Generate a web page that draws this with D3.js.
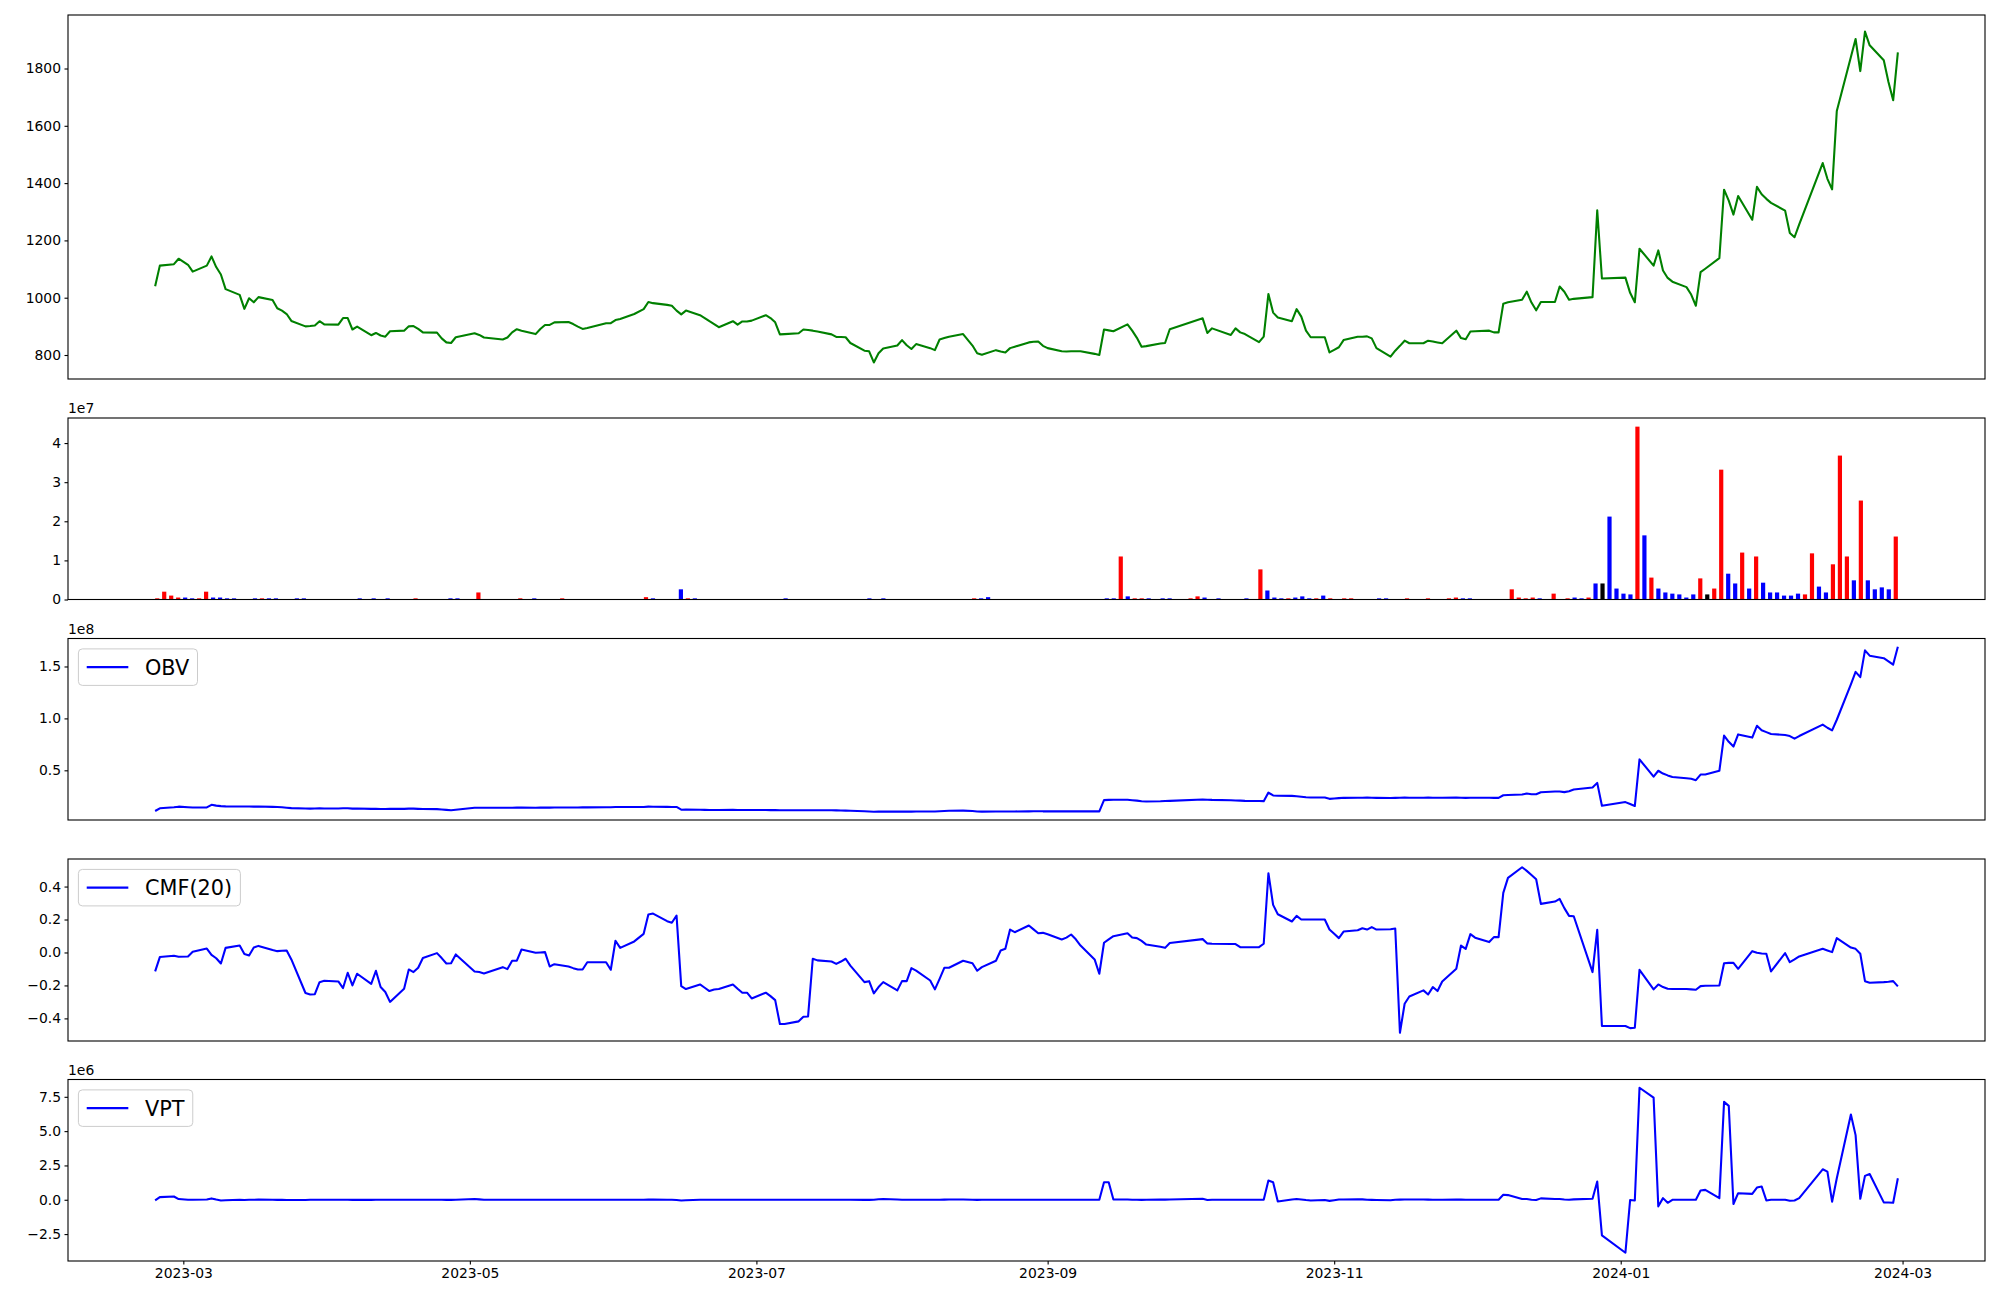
<!DOCTYPE html>
<html><head><meta charset="utf-8">
<script src="https://cdn.jsdelivr.net/npm/d3@7"></script>
<style>
html,body{margin:0;padding:0;background:#fff;}
svg{display:block;}
text{font-family:"DejaVu Sans",sans-serif;}
</style></head><body>
<svg id="chart" width="2000" height="1300"></svg>
<script>
// ---------------- DATA ----------------
const startDate = "2023-02-23", endDate = "2024-02-29";
const holidays = ["2023-03-01","2023-05-01","2023-05-05","2023-05-29","2023-06-06","2023-08-15",
  "2023-09-28","2023-09-29","2023-10-02","2023-10-03","2023-10-09","2023-12-25","2023-12-29",
  "2024-01-01","2024-02-09","2024-02-12"];

const price = [1040,1112,1117,1136,1115,1091,1112,1144,1107,1081,
 1030,1010,961,998,984,1002,992,963,955,943,
 919,900,901,903,918,907,906,929,929,889,
 899,869,877,868,864,883,885,900,901,891,
 879,878,858,844,842,862,876,870,861,854,
 861,879,890,885,873,891,905,905,914,915,
 908,899,891,894,911,911,922,926,943,960,
 985,981,975,972,955,942,955,939,929,918,
 908,897,918,906,917,917,920,939,929,914,
 872,873,876,889,887,885,882,872,863,863,
 862,842,815,813,774,806,823,833,852,834,
 821,838,824,817,854,859,864,873,833,806,
 801,817,812,809,824,829,844,846,847,832,
 824,813,812,813,813,813,804,800,889,886,
 883,907,885,860,829,831,840,842,890,928,
 877,893,870,893,879,873,845,864,1013,948,
 931,918,960,934,885,862,862,809,818,827,
 852,864,864,865,858,824,794,815,832,850,
 841,841,850,847,844,841,885,859,855,882,
 883,885,879,879,979,984,993,1021,983,956,
 985,985,1039,1021,993,996,1002,1305,1067,1070,
 1017,984,1171,1112,1165,1095,1069,1056,1037,1011,
 972,1089,1101,1138,1377,1339,1290,1355,1272,1387,
 1361,1345,1331,1304,1226,1211,1256,1470,1415,1378,
 1652,1840,1903,1791,1929,1881,1829,1753,1689,1856];

// volume in millions of shares
const volumeM = [0.3,2.0,1.0,0.5,0.5,0.3,0.3,2.0,0.5,0.5,
 0.3,0.3,0.05,0.05,0.3,0.3,0.3,0.3,0.05,0.05,
 0.3,0.3,0.05,0.05,0.05,0.05,0.05,0.05,0.05,0.3,
 0.05,0.3,0.05,0.3,0.05,0.05,0.05,0.3,0.05,0.05,
 0.05,0.05,0.3,0.3,0.05,0.05,1.8,0.05,0.05,0.05,
 0.05,0.05,0.3,0.05,0.3,0.05,0.05,0.05,0.3,0.05,
 0.05,0.05,0.05,0.05,0.05,0.05,0.05,0.05,0.05,0.05,
 0.6,0.3,0.05,0.05,0.05,2.6,0.3,0.3,0.05,0.05,
 0.05,0.05,0.05,0.05,0.05,0.05,0.05,0.05,0.05,0.05,
 0.3,0.05,0.05,0.05,0.05,0.05,0.05,0.05,0.05,0.05,
 0.05,0.05,0.3,0.05,0.3,0.05,0.05,0.05,0.05,0.05,
 0.05,0.05,0.05,0.05,0.05,0.05,0.05,0.3,0.3,0.6,
 0.05,0.05,0.05,0.05,0.05,0.05,0.05,0.05,0.05,0.05,
 0.05,0.05,0.05,0.05,0.05,0.05,0.3,0.3,11.0,0.8,
 0.3,0.3,0.3,0.05,0.3,0.3,0.05,0.05,0.3,0.8,
 0.5,0.05,0.3,0.05,0.05,0.05,0.3,0.05,7.7,2.3,
 0.5,0.3,0.3,0.5,0.8,0.3,0.3,1.0,0.3,0.05,
 0.3,0.3,0.05,0.05,0.05,0.3,0.3,0.05,0.05,0.3,
 0.05,0.05,0.3,0.05,0.05,0.3,0.5,0.3,0.3,0.05,
 0.05,0.05,0.05,0.05,2.6,0.5,0.3,0.5,0.3,0.05,
 1.5,0.05,0.3,0.5,0.3,0.5,4.1,4.1,21.2,2.8,
 1.5,1.3,44.2,16.4,5.6,2.8,1.8,1.5,1.3,0.5,
 1.3,5.4,1.3,2.8,33.2,6.6,4.1,12.0,2.8,11.0,
 4.3,1.8,1.8,1.0,1.0,1.5,1.3,11.8,3.3,1.8,
 9.0,36.8,11.0,4.9,25.3,4.9,2.6,3.1,2.6,16.1];

// bar direction: r = up (red), b = down (blue), k = unchanged (black)
const volDir = ["rrrrbbrrbb","bbbbbrbbbb","bbbbbbbbbb","bbbbbbbrbb","bbbbbbrbbb",
 "bbrbbbbbrb","bbbbbbbbbb","rbbbbbrbbb","bbbbbbbbbb","bbbbbbbbbb",
 "bbbbbbbbbb","bbbbbbbrbb","bbbbbbbbbb","bbbbbbbbrb","rrbbbbbbrr",
 "bbbbbbbbrb","bbrbbbrbrb","rrbbbbbbbr","bbrbbrrbbb","bbbbrrrrbb",
 "rbrbbrbkbb","bbrbrbbbbb","brkrrbbrbr","bbbbbbrrbb","rrrbrbbbbr"].join("");

// OBV in units of 1e7
const obvE7 = [1.08,1.34,1.45,1.50,1.45,1.42,1.43,1.68,1.60,1.55,
 1.53,1.52,1.51,1.52,1.50,1.51,1.48,1.46,1.44,1.40,
 1.36,1.32,1.31,1.32,1.34,1.33,1.33,1.34,1.34,1.31,
 1.32,1.29,1.30,1.28,1.27,1.29,1.29,1.31,1.31,1.29,
 1.27,1.26,1.23,1.19,1.15,1.20,1.40,1.40,1.39,1.39,
 1.40,1.40,1.41,1.41,1.40,1.41,1.41,1.41,1.42,1.42,
 1.42,1.42,1.43,1.43,1.45,1.45,1.46,1.46,1.47,1.47,
 1.50,1.49,1.48,1.47,1.47,1.21,1.22,1.20,1.19,1.18,
 1.18,1.18,1.19,1.18,1.18,1.18,1.18,1.18,1.17,1.17,
 1.16,1.16,1.16,1.16,1.15,1.15,1.15,1.15,1.14,1.13,
 1.12,1.10,1.06,1.03,1.01,1.02,1.02,1.02,1.03,1.02,
 1.02,1.03,1.03,1.04,1.06,1.08,1.10,1.12,1.08,1.04,
 1.02,1.03,1.03,1.03,1.04,1.04,1.05,1.06,1.06,1.05,
 1.05,1.05,1.05,1.05,1.05,1.05,1.05,1.05,2.13,2.15,
 2.16,2.16,2.12,2.08,2.02,2.00,2.02,2.04,2.06,2.19,
 2.17,2.15,2.12,2.10,2.08,2.06,2.04,2.03,2.86,2.58,
 2.55,2.54,2.50,2.45,2.40,2.38,2.38,2.25,2.28,2.32,
 2.35,2.36,2.36,2.37,2.36,2.35,2.34,2.35,2.36,2.37,
 2.36,2.36,2.37,2.36,2.36,2.36,2.37,2.36,2.35,2.36,
 2.36,2.36,2.35,2.35,2.60,2.62,2.67,2.76,2.70,2.70,
 2.89,2.96,2.96,2.90,2.99,3.15,3.34,3.79,1.59,1.94,
 1.75,1.56,6.05,4.39,4.96,4.69,4.51,4.36,4.23,4.18,
 4.05,4.59,4.59,4.95,8.34,7.75,7.29,8.46,8.15,9.29,
 8.85,8.68,8.50,8.40,8.30,8.05,8.30,9.40,9.10,8.85,
 9.87,13.27,14.48,13.97,16.55,16.04,15.80,15.50,15.18,16.90];

// Chaikin Money Flow (20)
const cmf = [-0.115,-0.028,-0.020,-0.026,-0.024,0.004,0.024,-0.015,-0.035,-0.067,
 0.028,0.042,-0.010,-0.018,0.030,0.040,0.015,0.008,0.010,0.012,
 -0.042,-0.246,-0.255,-0.253,-0.180,-0.172,-0.176,-0.216,-0.123,-0.200,
 -0.129,-0.190,-0.111,-0.210,-0.240,-0.300,-0.220,-0.103,-0.119,-0.093,
 -0.034,-0.004,-0.034,-0.067,-0.065,-0.012,-0.115,-0.119,-0.127,-0.089,
 -0.101,-0.050,-0.050,0.018,-0.002,0.000,0.002,-0.085,-0.071,-0.085,
 -0.095,-0.103,-0.103,-0.059,-0.059,-0.105,0.071,0.028,0.067,0.113,
 0.230,0.236,0.190,0.180,0.224,-0.204,-0.222,-0.194,-0.214,-0.234,
 -0.225,-0.222,-0.194,-0.220,-0.244,-0.244,-0.279,-0.244,-0.265,-0.289,
 -0.434,-0.434,-0.418,-0.390,-0.388,-0.038,-0.048,-0.055,-0.069,-0.055,
 -0.038,-0.080,-0.180,-0.174,-0.248,-0.210,-0.180,-0.230,-0.174,-0.174,
 -0.095,-0.110,-0.170,-0.224,-0.160,-0.093,-0.093,-0.050,-0.065,-0.111,
 -0.089,-0.050,0.012,0.022,0.139,0.123,0.164,0.140,0.117,0.119,
 0.110,0.079,0.090,0.109,0.080,0.042,-0.042,-0.129,0.059,0.080,
 0.099,0.117,0.091,0.087,0.070,0.048,0.035,0.028,0.057,0.081,
 0.055,0.053,0.051,0.051,0.032,0.032,0.032,0.053,0.481,0.289,
 0.232,0.188,0.222,0.200,0.200,0.200,0.200,0.139,0.113,0.087,
 0.127,0.135,0.147,0.139,0.154,0.139,0.141,0.145,-0.487,-0.311,
 -0.267,-0.230,-0.255,-0.210,-0.234,-0.176,-0.099,0.042,0.022,0.111,
 0.090,0.063,0.093,0.093,0.362,0.453,0.517,0.495,0.470,0.444,
 0.295,0.309,0.325,0.269,0.222,0.220,-0.119,0.137,-0.446,-0.446,
 -0.459,-0.457,-0.105,-0.224,-0.194,-0.210,-0.220,-0.222,-0.222,-0.224,
 -0.226,-0.204,-0.202,-0.200,-0.065,-0.063,-0.063,-0.099,0.008,-0.002,
 -0.006,-0.008,-0.115,-0.004,-0.059,-0.042,-0.024,0.022,0.012,0.002,
 0.087,0.030,0.022,-0.008,-0.174,-0.184,-0.180,-0.178,-0.174,-0.206];

// Volume Price Trend in units of 1e6
const vptE6 = [-0.05,0.19,0.24,0.05,0.00,0.00,0.02,0.10,0.02,-0.05,
 -0.03,0.00,-0.02,0.00,0.00,0.01,0.00,-0.01,-0.01,-0.02,
 -0.02,-0.02,0.00,0.00,0.00,0.00,0.00,0.00,0.00,-0.01,
 0.00,-0.01,0.00,0.00,0.00,0.00,0.00,0.00,0.00,0.00,
 0.00,0.00,0.00,-0.01,-0.01,0.00,0.05,0.03,0.00,0.00,
 0.00,0.00,0.00,0.00,0.00,0.00,0.00,0.00,0.00,0.00,
 0.00,0.00,0.00,0.00,0.00,0.00,0.00,0.00,0.00,0.00,
 0.02,0.01,0.00,0.00,-0.02,-0.05,-0.04,0.00,0.00,0.00,
 0.00,0.00,0.00,0.00,0.00,0.00,0.00,0.00,0.00,0.00,
 0.00,0.00,0.00,0.00,0.00,0.00,0.00,0.00,0.00,0.00,
 0.00,0.00,-0.01,-0.01,0.00,0.04,0.05,0.02,0.00,0.00,
 0.00,0.00,0.00,0.00,0.00,0.01,0.02,0.02,0.00,-0.01,
 0.00,0.00,0.00,0.00,0.00,0.00,0.00,0.00,0.00,0.00,
 0.00,0.00,0.00,0.00,0.00,0.00,0.00,0.00,1.28,1.28,
 0.02,0.02,0.00,0.00,-0.01,0.00,0.01,0.01,0.02,0.07,
 -0.02,0.00,0.00,0.00,0.00,0.00,0.00,0.00,1.40,1.28,
 -0.12,0.02,0.05,0.02,-0.02,-0.05,-0.02,-0.08,-0.03,0.02,
 0.02,0.03,0.03,0.00,-0.01,-0.02,-0.03,0.00,0.01,0.02,
 0.02,0.02,0.01,0.00,0.00,0.00,0.02,0.01,0.00,0.00,
 0.00,0.00,0.00,0.00,0.36,0.34,0.05,0.05,0.00,-0.02,
 0.10,0.05,0.05,0.02,0.00,0.03,0.07,1.33,-2.60,-3.86,
 -0.02,-0.05,8.16,7.44,-0.48,0.12,-0.22,0.00,0.00,0.00,
 0.00,0.68,0.72,0.12,7.13,6.84,-0.31,0.48,0.43,0.89,
 0.97,-0.05,0.00,0.00,-0.07,-0.05,0.12,2.22,2.05,-0.14,
 1.57,6.21,4.71,0.07,1.74,1.88,-0.19,-0.20,-0.22,1.57];

// tick values / labels
const priceTicks = [800,1000,1200,1400,1600,1800];
const volTicks = [0,1,2,3,4];          // x 1e7
const obvTicks = [0.5,1.0,1.5];        // x 1e8
const cmfTicks = [-0.4,-0.2,0.0,0.2,0.4];
const vptTicks = [-2.5,0.0,2.5,5.0,7.5]; // x 1e6
const xTickLabels = ["2023-03","2023-05","2023-07","2023-09","2023-11","2024-01","2024-03"];
const legendLabels = ["OBV","CMF(20)","VPT"];
const offsetLabels = ["1e7","1e8","1e6"];

// ---------------- BUILD ----------------
const parse = d3.utcParse("%Y-%m-%d");
const fmt = d3.utcFormat("%Y-%m-%d");
const hol = new Set(holidays);
const dates = [];
for (let d = parse(startDate); d <= parse(endDate); d = d3.utcDay.offset(d, 1)) {
  const wd = d.getUTCDay();
  if (wd !== 0 && wd !== 6 && !hol.has(fmt(d))) dates.push(d);
}
const N = dates.length;
const volume = volumeM.map(v => v * 1e6);
const obv = obvE7.map(v => v * 1e7);
const vpt = vptE6.map(v => v * 1e6);

const svg = d3.select("#chart");
svg.append("rect").attr("width", 2000).attr("height", 1300).attr("fill", "#fff");

const L = 68, R = 1985;
const panels = [{t:15,b:379},{t:418,b:599.5},{t:638.5,b:820},{t:859,b:1041},{t:1079.5,b:1261}];
const FS = 13.9, LW = 2.08, SPW = 1.1, TL = 3.5;

const t0 = +dates[0], t1 = +dates[N-1], span = t1 - t0;
const x = d3.scaleUtc().domain([new Date(t0 - 0.05*span), new Date(t1 + 0.05*span)]).range([L, R]);

function pad(arr){ const [a,b] = d3.extent(arr); const m = (b-a)*0.05; return [a-m, b+m]; }

function yAxis(p, y, ticks, labelFn) {
  const g = svg.append("g").attr("transform", `translate(${L},0)`);
  const ax = d3.axisLeft(y).tickValues(ticks).tickSize(TL).tickPadding(3.5).tickFormat(labelFn);
  g.call(ax);
  g.select(".domain").remove();
  g.selectAll(".tick line").attr("stroke", "#000").attr("stroke-width", SPW);
  g.selectAll(".tick text").attr("fill", "#000").style("font-size", FS + "px")
    .style("font-family", "'DejaVu Sans', sans-serif");
}
function frame(p) {
  svg.append("rect").attr("x", L).attr("y", p.t).attr("width", R - L).attr("height", p.b - p.t)
    .attr("fill", "none").attr("stroke", "#000").attr("stroke-width", SPW);
}
function offsetText(p, s) {
  svg.append("text").attr("x", L).attr("y", p.t - 5).attr("font-size", FS).attr("fill", "#000").text(s);
}
function legend(p, label) {
  const fs = 20.8, bp = 0.4*fs, hl = 2*fs, htp = 0.8*fs, bap = 0.5*fs;
  const g = svg.append("g");
  const bx = L + bap, by = p.t + bap, bh = 36.5;
  const rect = g.append("rect").attr("x", bx).attr("y", by).attr("height", bh)
    .attr("rx", 4).attr("ry", 4).attr("fill", "#fff").attr("fill-opacity", 0.8)
    .attr("stroke", "#cccccc").attr("stroke-width", 1);
  const cy = by + bh/2;
  g.append("line").attr("x1", bx + bp).attr("x2", bx + bp + hl).attr("y1", cy).attr("y2", cy)
    .attr("stroke", "#0000ff").attr("stroke-width", LW);
  const t = g.append("text").attr("x", bx + bp + hl + htp).attr("y", cy).attr("dy", "0.36em")
    .attr("font-size", fs).attr("fill", "#000").text(label);
  const tw = t.node().getComputedTextLength();
  rect.attr("width", bp + hl + htp + tw + bp);
}

// ---- Panel 1: price ----
{
  const p = panels[0];
  const y = d3.scaleLinear().domain(pad(price)).range([p.b, p.t]);
  const line = d3.line().x((d,i) => x(dates[i])).y(d => y(d));
  svg.append("path").datum(price).attr("d", line).attr("fill", "none")
    .attr("stroke", "#008000").attr("stroke-width", LW).attr("stroke-linejoin", "round");
  yAxis(p, y, priceTicks, d => String(d));
  frame(p);
}

// ---- Panel 2: volume bars (index axis) ----
{
  const p = panels[1];
  const bw = 0.6;
  const lo = -bw/2, hi = N - 1 + bw/2, m = 0.05*(hi - lo);
  const xi = d3.scaleLinear().domain([lo - m, hi + m]).range([L, R]);
  const y = d3.scaleLinear().domain([0, d3.max(volume)*1.05]).range([p.b, p.t]);
  const col = {r:"#ff0000", b:"#0000ff", k:"#000000"};
  svg.append("g").selectAll("rect").data(volume).join("rect")
    .attr("x", (d,i) => xi(i - bw/2)).attr("width", xi(bw) - xi(0))
    .attr("y", d => y(d)).attr("height", d => y(0) - y(d))
    .attr("fill", (d,i) => col[volDir[i]]);
  yAxis(p, y, volTicks.map(v => v*1e7), d => String(Math.round(d/1e7)));
  offsetText(p, offsetLabels[0]);
  frame(p);
}

// ---- Line indicator panels ----
function indicatorPanel(p, vals, ticks, scale, labelFmt, leg, off) {
  const y = d3.scaleLinear().domain(pad(vals)).range([p.b, p.t]);
  const line = d3.line().x((d,i) => x(dates[i])).y(d => y(d));
  svg.append("path").datum(vals).attr("d", line).attr("fill", "none")
    .attr("stroke", "#0000ff").attr("stroke-width", LW).attr("stroke-linejoin", "round");
  yAxis(p, y, ticks.map(v => v*scale), labelFmt);
  if (off) offsetText(p, off);
  frame(p);
  legend(p, leg);
}
const minus = s => s.replace("-", "\u2212");
indicatorPanel(panels[2], obv, obvTicks, 1e8, d => (d/1e8).toFixed(1), legendLabels[0], offsetLabels[1]);
indicatorPanel(panels[3], cmf, cmfTicks, 1, d => minus(d.toFixed(1)), legendLabels[1], null);
indicatorPanel(panels[4], vpt, vptTicks, 1e6, d => minus((d/1e6).toFixed(1)), legendLabels[2], offsetLabels[2]);

// ---- bottom x axis ----
{
  const p = panels[4];
  const g = svg.append("g").attr("transform", `translate(0,${p.b})`);
  const tv = xTickLabels.map(s => parse(s + "-01"));
  g.call(d3.axisBottom(x).tickValues(tv).tickSize(TL).tickPadding(3.5).tickFormat(d3.utcFormat("%Y-%m")));
  g.select(".domain").remove();
  g.selectAll(".tick line").attr("stroke", "#000").attr("stroke-width", SPW);
  g.selectAll(".tick text").attr("fill", "#000").style("font-size", FS + "px")
    .style("font-family", "'DejaVu Sans', sans-serif");
}
</script>
</body></html>
